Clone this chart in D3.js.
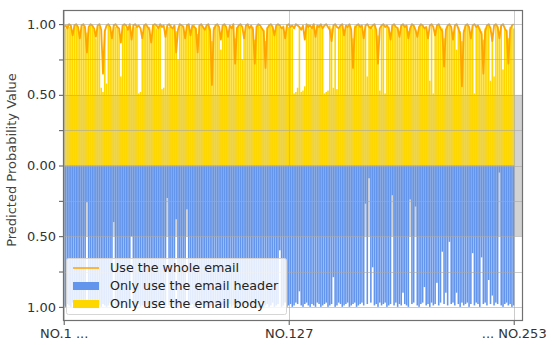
<!DOCTYPE html>
<html>
<head>
<meta charset="utf-8">
<script src="https://cdn.jsdelivr.net/npm/d3@7"></script>
<style>
  html, body { margin: 0; padding: 0; background: #fff; }
  svg { display: block; font-family: "DejaVu Sans", sans-serif; }
</style>
</head>
<body>
<svg id="chart" width="554" height="345"></svg>
<script>
// Predicted probability per sample (NO.1 ... NO.253)
const wholeEmail = [
  0.98,0.99,0.97,1.00,0.99,0.92,0.99,1.00,0.98,0.90,
  0.99,1.00,0.97,0.80,0.98,1.00,0.99,0.97,0.91,0.99,
  1.00,0.96,0.65,0.95,0.99,1.00,0.98,0.90,0.99,1.00,
  0.98,0.97,0.87,0.99,1.00,0.99,0.96,1.00,0.89,0.99,
  1.00,0.98,0.99,0.97,0.90,0.99,1.00,0.98,0.96,0.87,
  0.99,1.00,0.99,0.97,1.00,0.98,0.99,0.91,0.99,1.00,
  0.98,0.97,0.99,0.80,0.96,1.00,0.99,0.98,0.90,0.99,
  1.00,0.92,0.99,0.98,0.97,0.80,0.99,1.00,0.98,0.96,
  0.99,1.00,0.95,0.57,0.96,0.99,1.00,0.98,0.89,0.99,
  1.00,0.98,0.91,0.99,0.97,1.00,0.72,0.97,0.99,1.00,
  0.98,0.90,0.99,1.00,0.97,0.99,0.96,0.72,0.98,1.00,
  0.99,0.97,0.95,0.69,0.97,0.99,1.00,0.98,0.92,0.99,
  1.00,0.99,0.97,0.98,0.90,0.99,1.00,0.98,0.99,0.97,
  1.00,0.99,0.98,0.96,0.99,0.89,1.00,0.98,0.99,0.97,
  1.00,0.91,0.99,0.98,1.00,0.97,0.99,1.00,0.98,0.96,
  0.88,0.99,1.00,0.98,0.97,0.99,1.00,0.92,0.99,0.98,
  1.00,0.96,0.69,0.97,0.99,1.00,0.98,0.99,0.90,0.99,
  1.00,0.98,0.97,0.99,1.00,0.96,0.72,0.97,0.99,1.00,
  0.98,0.99,0.97,0.89,0.99,1.00,0.98,0.97,0.91,0.99,
  1.00,0.98,0.99,0.90,0.97,1.00,0.99,0.96,0.91,0.98,
  1.00,0.99,0.97,0.98,0.90,0.99,1.00,0.98,0.92,0.99,
  1.00,0.97,0.95,0.70,0.96,0.99,1.00,0.98,0.89,0.99,
  1.00,0.97,0.93,0.56,0.94,0.99,1.00,0.98,0.90,0.99,
  1.00,0.98,0.99,0.96,0.93,0.65,0.95,0.99,1.00,0.97,
  0.88,0.99,1.00,0.98,0.90,0.99,1.00,0.97,0.95,0.72,
  0.96,0.99,1.00
];

const emailBody = [
  0.99,0.97,1.00,0.98,0.99,0.95,1.00,0.99,0.97,0.93,
  1.00,0.98,0.99,0.94,0.97,1.00,0.99,0.96,0.90,0.99,
  0.98,0.55,0.52,0.96,0.58,0.99,0.97,0.92,1.00,0.98,
  0.99,0.96,0.63,0.99,1.00,0.97,0.98,0.99,0.93,1.00,
  0.98,0.99,0.51,0.52,0.94,0.99,1.00,0.97,0.98,0.91,
  1.00,0.99,0.97,0.98,1.00,0.54,0.55,0.93,0.99,0.98,
  1.00,0.97,0.99,0.95,0.75,1.00,0.98,0.99,0.92,1.00,
  0.99,0.94,0.98,1.00,0.97,0.93,0.99,1.00,0.98,0.96,
  1.00,0.99,0.97,0.88,0.98,1.00,0.99,0.97,0.82,0.99,
  1.00,0.98,0.93,0.99,0.97,1.00,0.90,0.98,0.99,1.00,
  0.75,0.94,0.99,1.00,0.97,0.99,0.98,0.89,0.99,1.00,
  0.98,0.97,0.96,0.88,0.98,1.00,0.99,0.97,0.93,0.99,
  1.00,0.98,0.97,0.99,0.94,1.00,0.98,0.99,0.97,0.51,
  0.52,0.55,0.98,0.52,0.53,0.56,0.99,1.00,0.97,0.98,
  1.00,0.95,0.99,0.98,1.00,0.97,0.51,0.52,0.53,0.99,
  0.97,0.55,1.00,0.54,0.98,0.99,1.00,0.94,0.99,0.98,
  1.00,0.97,0.90,0.99,0.98,1.00,0.99,0.97,0.93,0.99,
  0.63,0.98,0.99,0.97,1.00,0.96,0.92,0.53,0.99,1.00,
  0.51,0.99,0.98,0.94,0.99,1.00,0.97,0.98,0.93,0.99,
  1.00,0.98,0.99,0.95,0.97,1.00,0.99,0.96,0.94,0.98,
  1.00,0.99,0.97,0.98,0.93,0.60,1.00,0.51,0.96,0.99,
  1.00,0.98,0.97,0.90,0.96,0.99,1.00,0.98,0.94,0.99,
  0.82,0.98,0.95,0.88,0.96,0.99,1.00,0.98,0.93,0.99,
  0.51,0.98,0.99,0.97,0.95,0.89,0.97,0.99,1.00,0.60,
  0.94,0.63,1.00,0.98,0.93,0.99,0.68,0.97,0.96,0.90,
  0.98,0.99,0.97
];

const emailHeader = [
  0.99,1.00,0.98,0.99,1.00,0.97,0.99,1.00,0.98,0.99,
  1.00,0.99,0.98,0.26,0.99,1.00,0.98,0.99,1.00,0.97,
  0.99,1.00,0.98,0.99,1.00,0.99,0.97,1.00,0.40,0.99,
  1.00,0.98,0.99,1.00,0.97,0.99,1.00,0.98,0.50,0.99,
  1.00,0.99,0.98,1.00,0.99,0.97,1.00,0.99,0.98,1.00,
  0.99,1.00,0.98,0.99,1.00,0.97,0.99,1.00,0.23,0.99,
  1.00,0.98,0.99,0.38,1.00,0.99,0.97,1.00,0.99,0.31,
  1.00,0.99,0.98,1.00,0.99,0.97,1.00,0.98,0.99,1.00,
  0.99,0.98,1.00,0.99,0.97,1.00,0.99,0.98,1.00,0.99,
  0.97,1.00,0.99,0.98,1.00,0.99,0.97,1.00,0.98,0.99,
  1.00,0.99,0.98,1.00,0.97,0.99,1.00,0.98,0.99,1.00,
  0.99,0.97,1.00,0.99,0.98,1.00,0.99,0.97,1.00,0.99,
  0.98,0.60,1.00,0.99,0.97,1.00,0.99,0.98,1.00,0.99,
  0.97,0.98,0.89,0.99,1.00,0.98,0.97,0.99,1.00,0.98,
  0.99,1.00,0.97,0.98,1.00,0.99,0.98,0.97,1.00,0.99,
  0.98,0.79,1.00,0.99,0.97,0.98,1.00,0.99,0.98,0.97,
  1.00,0.99,0.98,0.97,1.00,0.99,0.98,0.97,0.99,0.27,
  0.98,0.09,0.97,0.72,0.99,0.98,1.00,0.97,0.99,0.98,
  0.97,1.00,0.99,0.98,0.21,0.99,0.97,1.00,0.98,0.99,
  0.90,0.98,0.99,1.00,0.24,0.98,0.97,0.29,0.99,1.00,
  0.98,0.97,0.86,0.99,0.98,1.00,0.97,0.99,0.98,0.83,
  0.99,0.97,0.61,0.98,0.90,0.99,0.54,0.98,0.97,0.99,
  0.90,0.98,1.00,0.97,0.99,0.98,0.97,1.00,0.98,0.62,
  0.99,0.97,0.98,1.00,0.65,0.98,0.97,0.99,0.81,0.98,
  0.92,0.99,0.97,0.98,0.05,0.99,1.00,0.98,0.97,0.99,
  0.98,1.00,0.99
];

const xTickIndex = [0, 126, 252];
const xTickLabels = ["NO.1 ...", "NO.127", "... NO.253"];
const yTickValues = [-1, -0.75, -0.5, -0.25, 0, 0.25, 0.5, 0.75, 1];
const yTickLabels = ["1.00", "", "0.50", "", "0.00", "", "0.50", "", "1.00"];
const legendLabels = ["Use the whole email", "Only use the email header", "Only use the email body"];

const colors = { whole: "#ffa500", header: "#6495ed", body: "#ffd700", band: "#d2d2d2" };

const svg = d3.select("#chart");
const plot = { left: 63, right: 523, top: 10, bottom: 321 };

// body bars go up from zero, header bars go down from zero
const x = d3.scaleLinear().domain([-0.4, 257.2]).range([plot.left, plot.right]);
const y = d3.scaleLinear().domain([-1.1, 1.1]).range([plot.bottom, plot.top]);
const step = x(1) - x(0);
const bw = step * 0.88;

svg.append("defs").append("clipPath").attr("id", "clip")
  .append("rect")
  .attr("x", plot.left).attr("y", plot.top)
  .attr("width", plot.right - plot.left).attr("height", plot.bottom - plot.top);

const g = svg.append("g").attr("clip-path", "url(#clip)");

// shaded band between 0.5 above and 0.5 below zero
g.append("rect")
  .attr("x", plot.left).attr("width", plot.right - plot.left)
  .attr("y", y(0.5)).attr("height", y(-0.5) - y(0.5))
  .attr("fill", colors.band);

g.append("g").selectAll("rect").data(emailBody).join("rect")
  .attr("x", (d, i) => x(i) - bw / 2)
  .attr("width", bw)
  .attr("y", d => y(d))
  .attr("height", d => y(0) - y(d))
  .attr("fill", colors.body);

g.append("g").selectAll("rect").data(emailHeader).join("rect")
  .attr("x", (d, i) => x(i) - bw / 2)
  .attr("width", bw)
  .attr("y", y(0))
  .attr("height", d => y(-d) - y(0))
  .attr("fill", colors.header);

g.append("path")
  .datum(wholeEmail)
  .attr("fill", "none")
  .attr("stroke", colors.whole)
  .attr("stroke-width", 1.8)
  .attr("stroke-linejoin", "round")
  .attr("d", d3.line().x((d, i) => x(i)).y(d => y(d)));

// grid
const grid = svg.append("g").attr("stroke", "#a8a8a8").attr("stroke-opacity", 0.6).attr("stroke-width", 1);
grid.selectAll("line.h").data(yTickValues).join("line")
  .attr("x1", plot.left).attr("x2", plot.right)
  .attr("y1", d => Math.round(y(d)) + 0.5).attr("y2", d => Math.round(y(d)) + 0.5);
grid.selectAll("line.v").data(xTickIndex).join("line")
  .attr("y1", plot.top).attr("y2", plot.bottom)
  .attr("x1", d => Math.round(x(d)) + 0.5).attr("x2", d => Math.round(x(d)) + 0.5);

// frame
svg.append("rect")
  .attr("x", plot.left + 0.5).attr("y", plot.top + 0.5)
  .attr("width", plot.right - plot.left - 1).attr("height", plot.bottom - plot.top - 1)
  .attr("fill", "none").attr("stroke", "#707070").attr("stroke-width", 1.2);

// axes
const yAxis = d3.axisLeft(y)
  .tickValues(yTickValues)
  .tickFormat((d, i) => yTickLabels[i])
  .tickSize(4).tickPadding(3);
const ya = svg.append("g").attr("transform", `translate(${plot.left},0)`).call(yAxis);
ya.select(".domain").remove();
ya.selectAll(".tick line").attr("stroke", "#555");
ya.selectAll(".tick text").attr("fill", "#333").attr("font-size", 13)
  .attr("font-family", "DejaVu Sans, sans-serif");

const xAxis = d3.axisBottom(x)
  .tickValues(xTickIndex)
  .tickFormat((d, i) => xTickLabels[i])
  .tickSize(4).tickPadding(4);
const xa = svg.append("g").attr("transform", `translate(0,${plot.bottom})`).call(xAxis);
xa.select(".domain").remove();
xa.selectAll(".tick line").attr("stroke", "#555");
xa.selectAll(".tick text").attr("fill", "#333").attr("font-size", 13)
  .attr("font-family", "DejaVu Sans, sans-serif");

svg.append("text")
  .attr("transform", `translate(16,${160}) rotate(-90)`)
  .attr("text-anchor", "middle")
  .attr("font-size", 13)
  .attr("fill", "#444")
  .text("Predicted Probability Value");

// legend
const lg = svg.append("g");
lg.append("rect")
  .attr("x", 66.5).attr("y", 258.5).attr("width", 220).attr("height", 56).attr("rx", 2)
  .attr("fill", "#fff").attr("fill-opacity", 0.82)
  .attr("stroke", "#d6d6d6").attr("stroke-width", 1);
const rowY = [268, 286, 304];
lg.append("line")
  .attr("x1", 73).attr("x2", 99).attr("y1", rowY[0]).attr("y2", rowY[0])
  .attr("stroke", colors.whole).attr("stroke-width", 1.5);
lg.append("rect").attr("x", 73).attr("y", rowY[1] - 4).attr("width", 26).attr("height", 8).attr("fill", colors.header);
lg.append("rect").attr("x", 73).attr("y", rowY[2] - 4).attr("width", 26).attr("height", 8).attr("fill", colors.body);
lg.selectAll("text.lab").data(legendLabels).join("text")
  .attr("x", 110).attr("y", (d, i) => rowY[i])
  .attr("dy", "0.35em")
  .attr("font-size", 12.7)
  .attr("fill", "#222")
  .text(d => d);
</script>
</body>
</html>
